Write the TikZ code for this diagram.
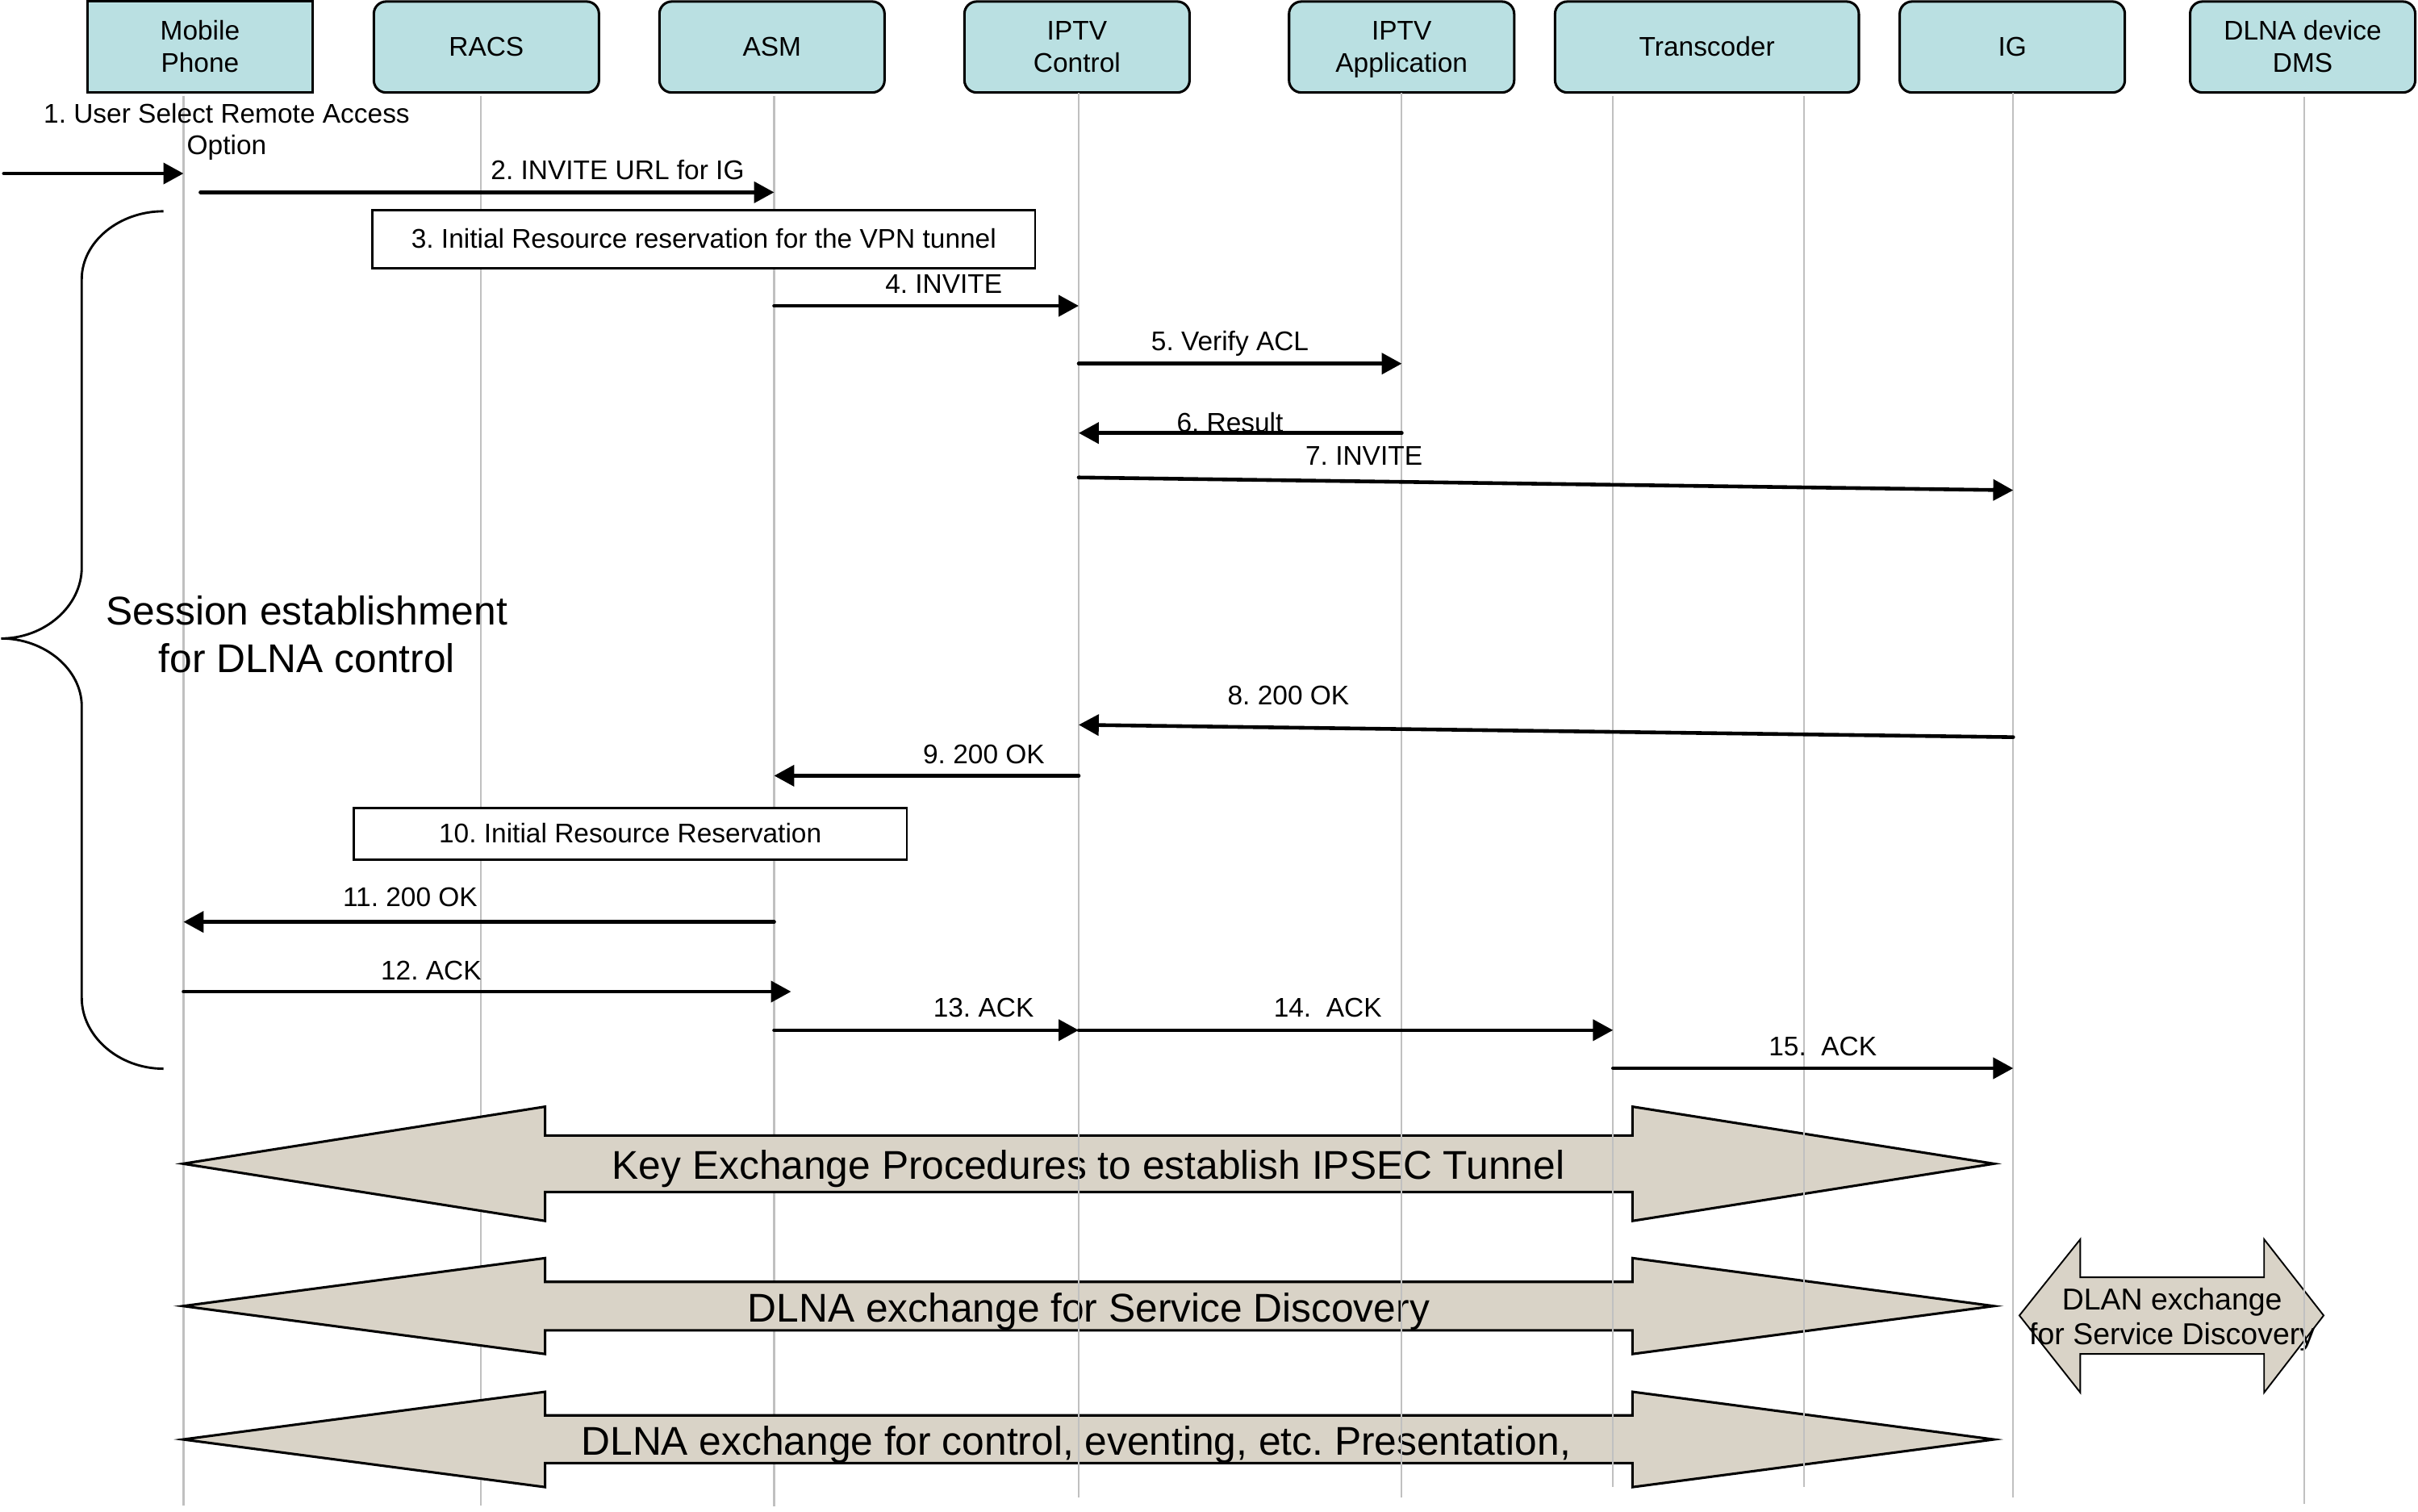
\documentclass[tikz,border=0pt]{standalone}
\usepackage{fontspec}
\setmainfont{Liberation Sans}
\usetikzlibrary{arrows.meta}

\definecolor{hdrfill}{RGB}{186,224,226}
\definecolor{blockfill}{RGB}{217,211,199}
\definecolor{lifegray}{RGB}{192,192,192}

% strut that places header text slightly below the box centre
\newcommand{\hs}{\rule[-4.7pt]{0pt}{21pt}}
\frenchspacing

\begin{document}
\begin{tikzpicture}[x=1pt,y=-1pt,
  hdr/.style={draw=black, line width=1.6pt, fill=hdrfill, rounded corners=8pt,
    minimum height=59pt, minimum width=146pt, inner sep=0pt, align=center,
    font=\fontsize{17.5}{21}\selectfont},
  hdrsq/.style={hdr, rounded corners=0pt},
  life/.style={draw=lifegray, line width=1.1pt},
  msg/.style={draw=black, line width=2.4pt, line cap=round,
    -{Triangle[length=13pt,width=13.5pt]}},
  lbl/.style={anchor=base, inner sep=0pt, font=\fontsize{17.5}{21}\selectfont},
  resbox/.style={draw=black, line width=1.4pt, fill=white, inner sep=0pt,
    font=\fontsize{17.5}{21}\selectfont},
  block/.style={draw=black, line width=1.6pt, fill=blockfill, line join=miter},
  smallblock/.style={draw=black, line width=1pt, fill=blockfill, line join=miter},
  bigtxt/.style={anchor=base, inner sep=0pt, font=\fontsize{26}{31}\selectfont},
  brace/.style={draw=black, line width=1.5pt}]

\useasboundingbox (0,0) rectangle (1568,980.4);

% ---------- participants ----------
\node[hdrsq] (MP)  at (129.7,30.5) {Mobile\hs\\Phone\hs};
\node[hdr]   (RACS) at (315.4,30.5) {RACS\hs};
\node[hdr]   (ASM) at (500.6,30.5) {ASM\hs};
\node[hdr]   (CTL) at (698.4,30.5) {IPTV\hs\\Control\hs};
\node[hdr]   (APP) at (908.9,30.5) {IPTV\hs\\Application\hs};
\node[hdr, minimum width=197pt] (TRC) at (1106.9,30.5) {Transcoder\hs};
\node[hdr]   (IG)  at (1304.9,30.5) {IG\hs};
\node[hdr]   (DMS) at (1493.2,30.5) {DLNA device\hs\\DMS\hs};

% ---------- lifeline ends ----------
\coordinate (tMP)   at (119,62);    \coordinate (bMP)   at (119,976);
\coordinate (tRACS) at (312,62);    \coordinate (bRACS) at (312,976);
\coordinate (tASM)  at (502,62);    \coordinate (bASM)  at (502,977);
\coordinate (tCTL)  at (699.5,60);  \coordinate (bCTL)  at (699.5,971);
\coordinate (tAPP)  at (909,60);    \coordinate (bAPP)  at (909,971);
\coordinate (tTRL)  at (1046,62);   \coordinate (bTRL)  at (1046,964);
\coordinate (tTRR)  at (1170,62);   \coordinate (bTRR)  at (1170,964);
\coordinate (tIG)   at (1305.5,60); \coordinate (bIG)   at (1305.5,971);
\coordinate (tDMS)  at (1494,63);   \coordinate (bDMS)  at (1494,975);

% lifelines lying under the block arrows
\draw[life] (tMP) -- (bMP);
\draw[life] (tRACS) -- (bRACS);
\draw[life] (tASM) -- (bASM);

% ---------- resource reservation boxes ----------
\node[resbox, minimum width=429.8pt, minimum height=37.5pt] (rr3) at (456.4,155.2)
  {3. Initial Resource reservation for the VPN tunnel\hs};
\node[resbox, minimum width=358.7pt, minimum height=33.5pt] (rr10) at (408.7,540.7)
  {10. Initial Resource Reservation\hs};

% ---------- session brace ----------
\draw[brace] (106,137) .. controls (77,137) and (53,157) .. (53,181)
  -- (53,368) .. controls (53,393) and (29,414) .. (0.8,414)
  .. controls (29,414) and (53,434) .. (53,458)
  -- (53,647) .. controls (53,672) and (77,693) .. (106,693);
\node[align=center, inner sep=0pt, font=\fontsize{26}{31}\selectfont] (sess) at (199,414.3)
  {Session establishment\strut\\for DLNA control\strut};

% ---------- block arrows ----------
\path[block] (118.7,754.6) -- (353.5,717.6) -- (353.5,736.3) -- (1058.6,736.3)
  -- (1058.6,717.6) -- (1293,754.6) -- (1058.6,791.7) -- (1058.6,772.9)
  -- (353.5,772.9) -- (353.5,791.7) -- cycle;
\path[block] (118.7,846.9) -- (353.5,815.8) -- (353.5,831.2) -- (1058.6,831.2)
  -- (1058.6,815.8) -- (1293,846.9) -- (1058.6,878) -- (1058.6,862.7)
  -- (353.5,862.7) -- (353.5,878) -- cycle;
\path[block] (118.7,933.4) -- (353.5,902.5) -- (353.5,917.8) -- (1058.6,917.8)
  -- (1058.6,902.5) -- (1293,933.4) -- (1058.6,964.3) -- (1058.6,948.7)
  -- (353.5,948.7) -- (353.5,964.3) -- cycle;
\path[smallblock] (1309.5,853) -- (1349,803.6) -- (1349,828.3) -- (1468.2,828.3)
  -- (1468.2,803.6) -- (1506.8,853) -- (1468.2,903) -- (1468.2,878)
  -- (1349,878) -- (1349,903) -- cycle;

\node[bigtxt] (keyx) at (705.8,764.7) {Key Exchange Procedures to establish IPSEC Tunnel};
\node[bigtxt] (disc) at (706,857.1) {DLNA exchange for Service Discovery};
\node[bigtxt] (ctrl) at (697.8,943.8) {DLNA exchange for control, eventing, etc. Presentation,};
\node[align=center, inner sep=0pt, font=\fontsize{19.6}{22.7}\selectfont] (dlan) at (1408.5,856.1)
  {DLAN exchange\strut\\for Service Discovery\strut};

% lifelines lying over the block arrows
\draw[life] (tCTL) -- (bCTL);
\draw[life] (tAPP) -- (bAPP);
\draw[life] (tTRL) -- (bTRL);
\draw[life] (tTRR) -- (bTRR);
\draw[life] (tIG) -- (bIG);
\draw[life] (tDMS) -- (bDMS);

% ---------- messages ----------
\coordinate (user) at (2.5,112.5);
\coordinate (s2) at (130,124.7);
\coordinate (e12) at (513,643);

\node[align=center, inner sep=0pt, font=\fontsize{17.5}{20.8}\selectfont] (l1) at (147,85.8)
  {1. User Select Remote Access\strut\\Option\strut};
\draw[msg] (user) -- (tMP |- user);

\node[lbl] (l2) at (400.5,116.5) {2. INVITE URL for IG};
\draw[msg] (s2) -- (tASM |- s2);

\node[lbl] (l4) at (612,190) {4. INVITE};
\draw[msg] (tASM |- 0,198.3) -- (tCTL |- 0,198.3);

\node[lbl] (l5) at (797.6,227.2) {5. Verify ACL};
\draw[msg] (tCTL |- 0,235.8) -- (tAPP |- 0,235.8);

\node[lbl] (l6) at (797.6,279.9) {6. Result};
\draw[msg] (tAPP |- 0,280.8) -- (tCTL |- 0,280.8);

\node[lbl] (l7) at (884.5,301.4) {7. INVITE};
\draw[msg] (tCTL |- 0,309.6) -- (tIG |- 0,317.9);

\node[lbl] (l8) at (835.5,457) {8. 200 OK};
\draw[msg] (tIG |- 0,478) -- (tCTL |- 0,470);

\node[lbl] (l9) at (638,495) {9. 200 OK};
\draw[msg] (tCTL |- 0,503) -- (tASM |- 0,503);

\node[lbl] (l11) at (266,588) {11. 200 OK};
\draw[msg] (tASM |- 0,597.8) -- (tMP |- 0,597.8);

\node[lbl] (l12) at (279.6,635.3) {12. ACK};
\draw[msg] (tMP |- e12) -- (e12);

\node[lbl] (l13) at (637.8,659.7) {13. ACK};
\draw[msg] (tASM |- 0,668) -- (tCTL |- 0,668);

\node[lbl] (l14) at (861,659.7) {14.\ \ ACK};
\draw[msg] (tCTL |- 0,668) -- (tTRL |- 0,668);

\node[lbl] (l15) at (1182,684.5) {15.\ \ ACK};
\draw[msg] (tTRL |- 0,692.7) -- (tIG |- 0,692.7);

\end{tikzpicture}
\end{document}
